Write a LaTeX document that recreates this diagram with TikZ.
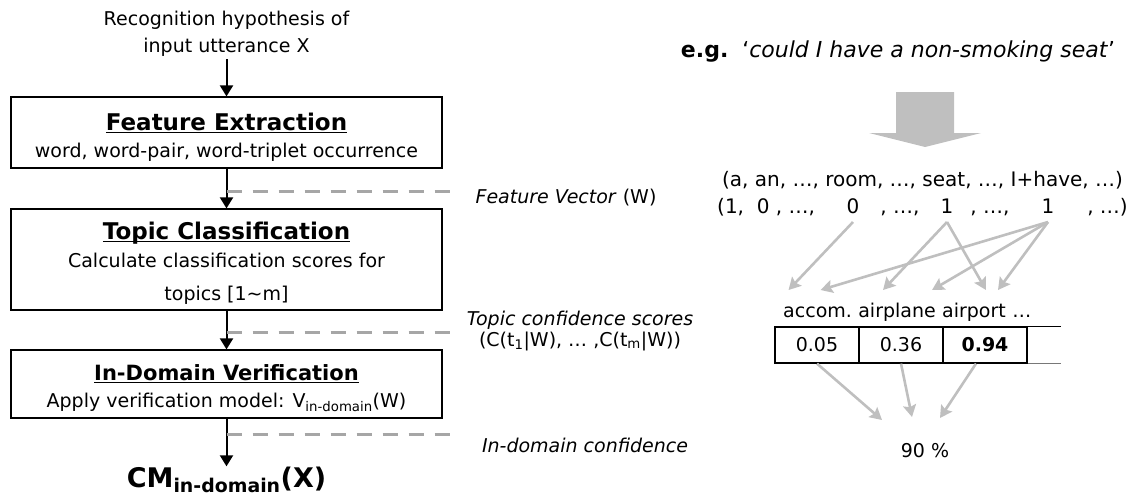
\documentclass[tikz,border=0pt]{standalone}
\usepackage{fontspec}
\setmainfont{DejaVu Sans}
\usepackage{tikz}
\usetikzlibrary{arrows.meta, positioning}
\definecolor{arrowgray}{RGB}{191,191,191}
\definecolor{dashgray}{RGB}{166,166,166}
\definecolor{edgegray}{RGB}{120,120,120}

\newcommand{\bodyfont}{\fontsize{19}{22}\selectfont}
\newcommand{\headfont}{\fontsize{23}{26}\selectfont\bfseries}
% underline with a thicker rule than \underline
\newcommand{\ulhead}[1]{\leavevmode\setbox0=\hbox{#1}\rlap{\rule[-3pt]{\wd0}{1.4pt}}\box0}

\begin{document}
\begin{tikzpicture}[x=1pt, y=-1pt, % one unit = one pixel of the layout, y grows downwards
    txt/.style={inner sep=0pt, font=\bodyfont},
    vecfont/.style={inner sep=0pt, font=\fontsize{20}{24}\selectfont},
    stagebox/.style={draw, line width=1.2pt, minimum width=431pt, inner sep=0pt},
    flowarrow/.style={line width=2pt, -{Triangle[length=11pt,width=13pt]}},
    guideline/.style={dashgray, line width=3pt, dash pattern=on 15pt off 11pt},
    grayarrow/.style={arrowgray, line width=2.6pt, -{Stealth[length=12pt,width=13pt,inset=2pt]}},
    cell/.style={draw, line width=1.2pt, minimum width=84pt, minimum height=36pt, inner sep=0pt, font=\bodyfont}]

    \useasboundingbox (0,0) rectangle (1134,498);

    % Input text
    \node[txt, anchor=base] (hyp1) at (226.5,25) {Recognition hypothesis of};
    \node[txt, anchor=base] (hyp2) at (226.5,52) {input utterance X};

    % Stage 1
    \node[stagebox, minimum height=71pt] (fe) at (226.5,132.5) {};
    \node[txt, anchor=base, font=\headfont] (fe-title) at (226.5,130) {\ulhead{Feature Extraction}};
    \node[txt, anchor=base] (fe-text) at (226.5,157) {word, word-pair, word-triplet occurrence};

    % Stage 2
    \node[stagebox, minimum height=101pt] (tc) at (226.5,259.5) {};
    \node[txt, anchor=base, font=\headfont] (tc-title) at (226.5,239) {\ulhead{Topic Classification}};
    \node[txt, anchor=base] (tc-text1) at (226.5,267) {Calculate classification scores for};
    \node[txt, anchor=base] (tc-text2) at (226.5,300) {topics [1\textasciitilde m]};

    % Stage 3
    \node[stagebox, minimum height=68pt] (dv) at (226.5,384) {};
    \node[txt, anchor=base, font=\fontsize{21}{24}\selectfont\bfseries] (dv-title) at (226.5,380) {\ulhead{In-Domain Verification}};
    \node[txt, anchor=base] (dv-text) at (226.5,407) {Apply verification model: V\textsubscript{in-domain}(W)};

    % Output
    \node[txt, anchor=base, font=\fontsize{27}{30}\selectfont\bfseries] (cm) at (226.5,487) {CM\textsubscript{in-domain}(X)};

    % Flow arrows
    \draw[flowarrow, shorten <=3pt] (hyp2.south) -- (fe.north);
    \draw[flowarrow] (fe.south) -- (tc.north);
    \draw[flowarrow] (tc.south) -- (dv.north);
    \draw[flowarrow] (dv.south) -- (cm.north);

    % Dashed guide lines to the annotations
    \coordinate (fv-start) at (226.5,191);  \coordinate (fv-end) at (452,191);
    \coordinate (tcs-start) at (226.5,332); \coordinate (tcs-end) at (452,332);
    \coordinate (idc-start) at (226.5,434); \coordinate (idc-end) at (452,434);
    \draw[guideline] (fv-start) -- (fv-end);
    \draw[guideline] (tcs-start) -- (tcs-end);
    \draw[guideline] (idc-start) -- (idc-end);

    % Annotations
    \node[txt, anchor=base] (fv-label) at (566,203) {\textit{Feature Vector} (W)};
    \node[txt, anchor=base] (tcs-label) at (580,325) {\textit{Topic confidence scores}};
    \node[txt, anchor=base] (tcs-formula) at (580,346) {(C(t\textsubscript{1}|W), … ,C(t\textsubscript{m}|W))};
    \node[txt, anchor=base] (idc-label) at (585,452) {\textit{In-domain confidence}};

    % Example sentence and block arrow
    \node[txt, anchor=base, font=\fontsize{22}{26}\selectfont] (eg) at (898,57) {\textbf{e.g.}\ \ `\textit{could I have a non-smoking seat}'};
    \fill[arrowgray] (896,92) -- (954,92) -- (954,133) -- (981,133) -- (925,147) -- (869,133) -- (896,133) -- cycle;

    % Feature vector
    \node[vecfont, anchor=base] (vec-words) at (922.5,186) {(a, an, …, room, …, seat, …, I+have, …)};
    \node[vecfont, anchor=base west] (vec-a) at (717,213) {(1,\ \ 0 , …,};
    \node[vecfont, anchor=base] (v-room) at (853,213) {0};
    \node[vecfont, anchor=base] (vec-b) at (900,213) {, …,};
    \node[vecfont, anchor=base] (v-seat) at (947,213) {1};
    \node[vecfont, anchor=base] (vec-c) at (990,213) {, …,};
    \node[vecfont, anchor=base] (v-ihave) at (1048,213) {1};
    \node[vecfont, anchor=base east] (vec-d) at (1128,213) {, …)};

    % Topics
    \node[txt, anchor=base west] (accom) at (783,317) {accom.};
    \node[txt, base right=6pt of accom] (airplane) {airplane};
    \node[txt, base right=6pt of airplane] (airport) {airport};
    \node[txt, base right=6pt of airport] (more) {…};

    \draw[grayarrow] ([yshift=-9pt]v-room.base) -- ([xshift=-29pt,yshift=27pt]accom.base);
    \draw[grayarrow] ([yshift=-9pt]v-ihave.base) -- ([xshift=3pt,yshift=27pt]accom.base);
    \draw[grayarrow] ([yshift=-9pt]v-seat.base) -- ([xshift=-14pt,yshift=27pt]airplane.base);
    \draw[grayarrow] ([yshift=-9pt]v-ihave.base) -- ([xshift=35pt,yshift=27pt]airplane.base);
    \draw[grayarrow] ([yshift=-9pt]v-seat.base) -- ([xshift=12pt,yshift=27pt]airport.base);
    \draw[grayarrow] ([yshift=-9pt]v-ihave.base) -- ([xshift=24pt,yshift=27pt]airport.base);

    % Score table
    \node[cell] (c1) at (817,345) {0.05};
    \node[cell] (c2) at (901,345) {0.36};
    \node[cell] (c3) at (985,345) {\textbf{0.94}};
    \draw[line width=1.2pt] (c3.north east) -- ++(33,0);
    \draw[edgegray, line width=1.2pt] (c3.south east) -- ++(33,0);

    % In-domain confidence value
    \node[txt, anchor=base] (pct) at (925,457) {90 \%};
    \draw[grayarrow] (c1.south) -- ([xshift=-43pt,yshift=37pt]pct.base);
    \draw[grayarrow] (c2.south) -- ([xshift=-13pt,yshift=40pt]pct.base);
    \draw[grayarrow] ([xshift=-9pt]c3.south) -- ([xshift=15pt,yshift=39pt]pct.base);

\end{tikzpicture}
\end{document}
